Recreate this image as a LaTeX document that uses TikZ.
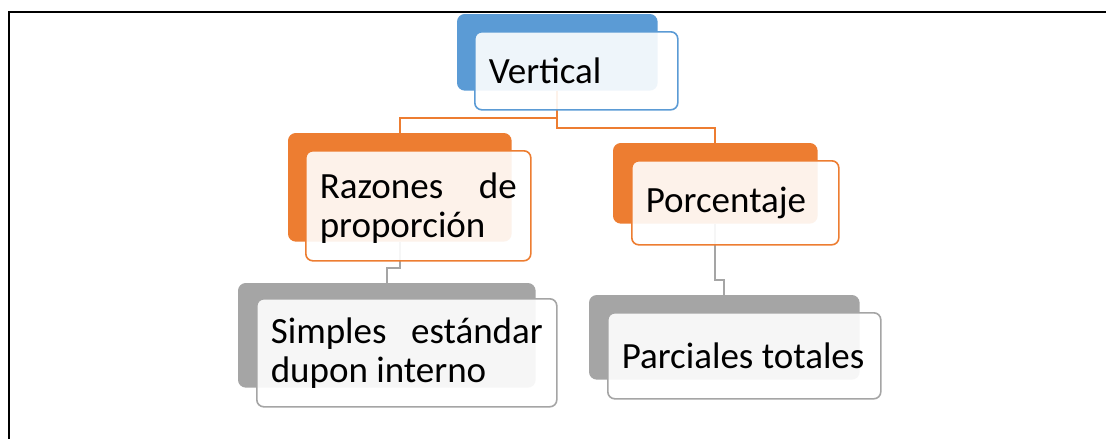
\documentclass[tikz,border=0pt]{standalone}
\usepackage{fontspec}
\setmainfont{Carlito}
\usetikzlibrary{positioning}
\definecolor{sablue}{HTML}{5B9BD5}
\definecolor{saorange}{HTML}{ED7D31}
\definecolor{sagray}{HTML}{A5A5A5}
\tikzset{back/.style={draw=#1,fill=#1,line width=1.6pt,rounded corners=7pt,anchor=north west,inner sep=0pt},
         front/.style={draw=#1,fill=white,fill opacity=0.9,text opacity=1,line width=1.6pt,rounded corners=7pt,
                       inner xsep=14pt,inner ysep=0pt,align=flush left,font=\fontsize{37}{39}\selectfont},
         elbow/.style={draw=#1,line width=1.8pt}}

\begin{document}
\begin{tikzpicture}[x=1pt,y=-1pt]
                   \useasboundingbox (0,0) rectangle (1106,439);
                   \draw[line width=2.6pt] (9,439) -- (9,12) -- (1106,12);
                   \node[back=sablue,minimum width=199pt,minimum height=75pt] (vert_b) at (457,14) {};
                   \node[back=saorange,minimum width=222pt,minimum height=107pt] (raz_b) at (288,133) {};
                   \node[back=saorange,minimum width=203pt,minimum height=79pt] (por_b) at (613,143) {};
                   \node[back=sagray,minimum width=296pt,minimum height=103pt] (sim_b) at (238,283) {};
                   \node[back=sagray,minimum width=269pt,minimum height=83pt] (par_b) at (589,295) {};
                    \draw[elbow=saorange] (vert_b.south) -- ++(0,27) -| (raz_b.north);
                    \draw[elbow=saorange] (vert_b.south) -- ++(0,37) -| (por_b.north);
                    \draw[elbow=sagray] (raz_b.south) -- ++(0,26) -| (sim_b.north);
                    \draw[elbow=sagray] (por_b.south) -- ++(0,56) -| (par_b.north);
                   \node[front=sablue,text width=175pt,minimum height=78pt] (vert) [below right=17pt and 17pt of vert_b.north west] {Vertical};
                   \node[front=saorange,text width=197pt,minimum height=110pt] (raz) [below right=17pt and 17pt of raz_b.north west] {\rule{0pt}{30pt}Razones\hfill de\\proporción};
                   \node[front=saorange,text width=179pt,minimum height=84pt] (por) [below right=17pt and 18pt of por_b.north west] {Porcentaje};
                   \node[front=sagray,text width=272pt,minimum height=108pt] (sim) [below right=15pt and 18pt of sim_b.north west] {Simples\hfill estándar\\dupon interno};
                   \node[front=sagray,text width=245pt,minimum height=86pt] (par) [below right=17pt and 18pt of par_b.north west] {Parciales totales};
\end{tikzpicture}
\end{document}
